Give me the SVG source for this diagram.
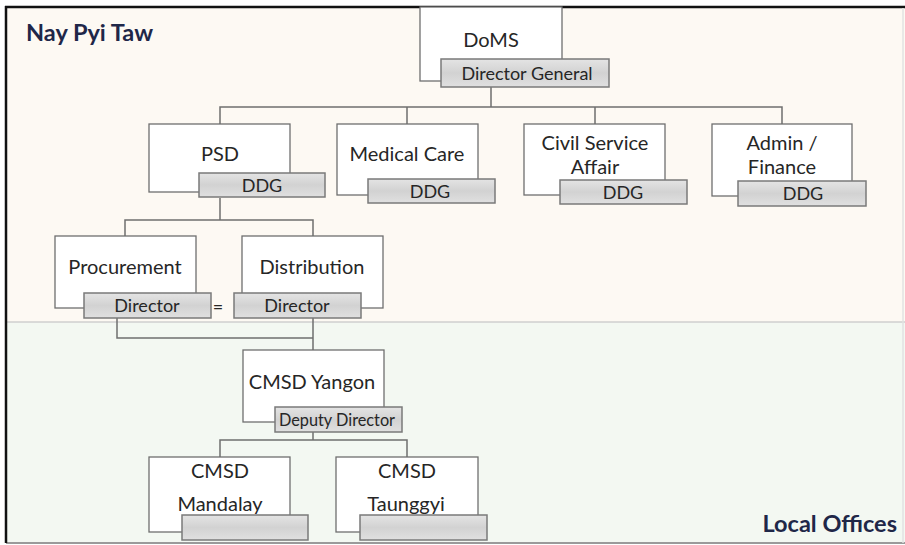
<svg xmlns="http://www.w3.org/2000/svg" width="905" height="545" viewBox="0 0 905 545">
<defs>
<linearGradient id="gb" x1="0" y1="0" x2="0" y2="1">
<stop offset="0" stop-color="#e4e4e4"/>
<stop offset="0.5" stop-color="#d2d2d2"/>
<stop offset="1" stop-color="#e0e0e0"/>
</linearGradient>
<style>
.box{fill:#ffffff;stroke:#6f6f6f;stroke-width:1.3}
.tag{fill:url(#gb);stroke:#7a7a7a;stroke-width:1.5}
.t{font-family:Lato,"Liberation Sans",sans-serif;font-size:20px;fill:#262626;text-anchor:middle}
.s{font-family:Lato,"Liberation Sans",sans-serif;font-size:18px;fill:#262626;text-anchor:middle}
.h{font-family:Lato,"Liberation Sans",sans-serif;font-size:23.5px;font-weight:bold;fill:#1f2748}
.c{fill:none;stroke:#6f6f6f;stroke-width:1.5}
</style>
</defs>
<rect x="0" y="0" width="905" height="545" fill="#ffffff"/>
<rect x="6" y="7" width="899" height="315" fill="#fdf9f3"/>
<rect x="6" y="322" width="899" height="221" fill="#f3f8f2"/>
<line x1="6" y1="322" x2="905" y2="322" stroke="#cfcfcf" stroke-width="1.5"/>
<line x1="6" y1="543" x2="905" y2="543" stroke="#9a9a9a" stroke-width="2"/>
<line x1="5" y1="7" x2="905" y2="7" stroke="#111" stroke-width="2.5"/>
<line x1="6" y1="6" x2="6" y2="543" stroke="#111" stroke-width="2.5"/>
<line x1="903" y1="8" x2="903" y2="543" stroke="#e2e2e2" stroke-width="1.5"/>
<text class="h" x="26" y="41">Nay Pyi Taw</text>
<text class="h" x="897" y="532" text-anchor="end">Local Offices</text>

<g id="connectors">
<path class="c" d="M491 87 V107 M220 124 V107 H782 V124 M407 107 V124 M595 107 V124"/>
<path class="c" d="M220 198 V220 M125 236 V220 H313 V236"/>
<path class="c" d="M117 318 V338 H313 M313 318 V350"/>
<path class="c" d="M313 432 V440 M220 457 V440 H407 V457"/>
</g>

<g id="doms">
<rect class="box" x="420" y="7" width="142" height="74"/>
<text class="t" x="491" y="47">DoMS</text>
<rect class="tag" x="441" y="59" width="168" height="28"/>
<text class="s" x="527" y="80">Director General</text>
</g>

<g id="psd">
<rect class="box" x="149" y="124" width="141" height="68"/>
<text class="t" x="220" y="161">PSD</text>
<rect class="tag" x="199" y="173" width="126" height="24"/>
<text class="s" x="262" y="192">DDG</text>
</g>

<g id="medical">
<rect class="box" x="337" y="124" width="141" height="71"/>
<text class="t" x="407" y="161">Medical Care</text>
<rect class="tag" x="368" y="179" width="127" height="24"/>
<text class="s" x="430" y="198">DDG</text>
</g>

<g id="civil">
<rect class="box" x="524" y="124" width="141" height="71"/>
<text class="t" x="595" y="150">Civil Service</text>
<text class="t" x="595" y="174">Affair</text>
<rect class="tag" x="560" y="180" width="127" height="24"/>
<text class="s" x="623" y="199">DDG</text>
</g>

<g id="admin">
<rect class="box" x="712" y="124" width="140" height="72"/>
<text class="t" x="782" y="150">Admin /</text>
<text class="t" x="782" y="174">Finance</text>
<rect class="tag" x="738" y="181" width="128" height="25"/>
<text class="s" x="803" y="200">DDG</text>
</g>

<g id="procurement">
<rect class="box" x="55" y="236" width="141" height="72"/>
<text class="t" x="125" y="274">Procurement</text>
<rect class="tag" x="84" y="293" width="127" height="25"/>
<text class="s" x="147" y="312">Director</text>
</g>

<text class="s" x="218" y="313" fill="#555">=</text>

<g id="distribution">
<rect class="box" x="242" y="236" width="141" height="72"/>
<text class="t" x="312" y="274">Distribution</text>
<rect class="tag" x="234" y="293" width="127" height="25"/>
<text class="s" x="297" y="312">Director</text>
</g>

<g id="yangon">
<rect class="box" x="243" y="350" width="141" height="72"/>
<text class="t" x="312" y="389">CMSD Yangon</text>
<rect class="tag" x="275" y="407" width="127" height="25"/>
<text class="s" x="337" y="426" style="font-size:16.3px">Deputy Director</text>
</g>

<g id="mandalay">
<rect class="box" x="149" y="457" width="141" height="75"/>
<text class="t" x="220" y="478">CMSD</text>
<text class="t" x="220" y="511">Mandalay</text>
<rect class="tag" x="182" y="515" width="126" height="25"/>
</g>

<g id="taunggyi">
<rect class="box" x="336" y="457" width="142" height="75"/>
<text class="t" x="407" y="478">CMSD</text>
<text class="t" x="406" y="511">Taunggyi</text>
<rect class="tag" x="360" y="515" width="127" height="25"/>
</g>
</svg>
